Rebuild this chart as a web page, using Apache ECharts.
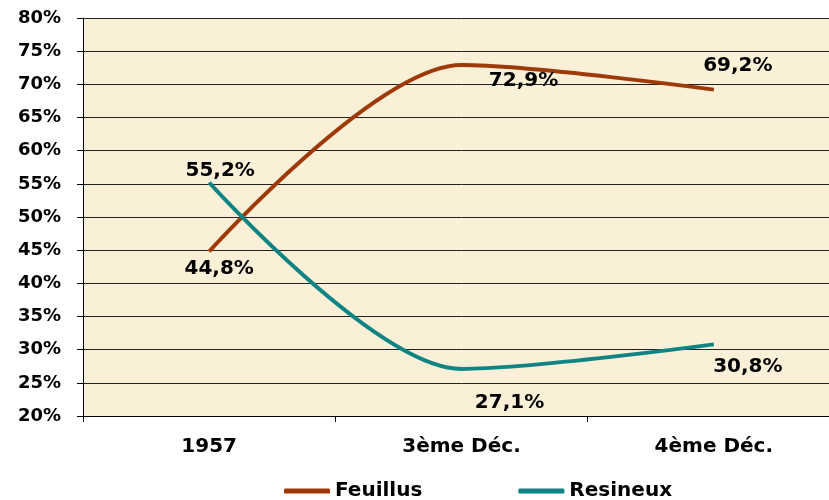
<!DOCTYPE html>
<html>
<head>
<meta charset="utf-8">
<script src="https://cdn.jsdelivr.net/npm/echarts@6/dist/echarts.min.js"></script>
<style>
  html, body { margin: 0; padding: 0; background: #fff; overflow: hidden; }
  #main { width: 840px; height: 500px; }
</style>
</head>
<body>
<div id="main"></div>
<script>
// categories and values (percent)
var categories = ['1957', '3ème Déc.', '4ème Déc.'];
var feuillus = [44.8, 72.9, 69.2];
var resineux = [55.2, 27.1, 30.8];
var yTicks = [20, 80, 5]; // min, max, interval

var FONT = 'DejaVu Sans';
var BROWN = '#9E3A08';
var TEAL = '#0E8484';

// label placement per point (style only)
var feuillusLabels = [
    { position: 'bottom', offset: [10, 2] },
    { position: 'bottom', offset: [62, 0] },
    { position: 'top', offset: [24, -8] }
];
var resineuxLabels = [
    { position: 'top', offset: [11, 4] },
    { position: 'bottom', offset: [48, 18] },
    { position: 'bottom', offset: [34, 7] }
];

function fmt(v) {
    return v.toFixed(1).replace('.', ',') + '%';
}

function buildData(values, labels) {
    return values.map(function (v, i) {
        return { value: v, label: labels[i] };
    });
}

var labelStyle = {
    show: true,
    fontFamily: FONT,
    fontWeight: 'bold',
    fontSize: 20,
    color: '#000',
    formatter: function (p) { return fmt(p.value); }
};

var chart = echarts.init(document.getElementById('main'));
var option = {
    backgroundColor: '#ffffff',
    animation: false,
    textStyle: { fontFamily: FONT },
    grid: {
        left: 83,
        top: 18,
        right: 0,
        bottom: 84,
        show: true,
        backgroundColor: '#FAEFD7',
        borderWidth: 0
    },
    legend: {
        top: 476,
        left: 279,
        itemGap: 96,
        itemWidth: 46,
        itemHeight: 5,
        icon: 'roundRect',
        textStyle: { fontFamily: FONT, fontWeight: 'bold', fontSize: 20, color: '#000' },
        data: [
            { name: 'Feuillus', itemStyle: { color: BROWN } },
            { name: 'Resineux', itemStyle: { color: TEAL } }
        ]
    },
    xAxis: {
        type: 'category',
        data: categories,
        boundaryGap: true,
        axisLine: { lineStyle: { color: '#000', width: 1 } },
        axisTick: { show: true, length: 6, lineStyle: { color: '#000' } },
        axisLabel: {
            margin: 21,
            fontFamily: FONT,
            fontWeight: 'bold',
            fontSize: 20,
            color: '#000'
        },
        splitLine: { show: false }
    },
    yAxis: {
        type: 'value',
        min: yTicks[0],
        max: yTicks[1],
        interval: yTicks[2],
        axisLine: { show: true, lineStyle: { color: '#000', width: 1 } },
        axisTick: { show: true, length: 6, lineStyle: { color: '#000' } },
        axisLabel: {
            margin: 22,
            fontFamily: FONT,
            fontWeight: 'bold',
            fontSize: 18,
            color: '#000',
            formatter: '{value}%'
        },
        splitLine: { show: true, lineStyle: { color: '#222', width: 1 } }
    },
    series: [
        {
            name: 'Feuillus',
            type: 'line',
            smooth: 0.3,
            symbol: 'circle',
            symbolSize: 1,
            showSymbol: true,
            itemStyle: { color: 'transparent' },
            lineStyle: { width: 4, color: BROWN },
            label: labelStyle,
            data: buildData(feuillus, feuillusLabels)
        },
        {
            name: 'Resineux',
            type: 'line',
            smooth: 0.3,
            symbol: 'circle',
            symbolSize: 1,
            showSymbol: true,
            itemStyle: { color: 'transparent' },
            lineStyle: { width: 4, color: TEAL },
            label: labelStyle,
            data: buildData(resineux, resineuxLabels)
        }
    ]
};
chart.setOption(option);
</script>
</body>
</html>
